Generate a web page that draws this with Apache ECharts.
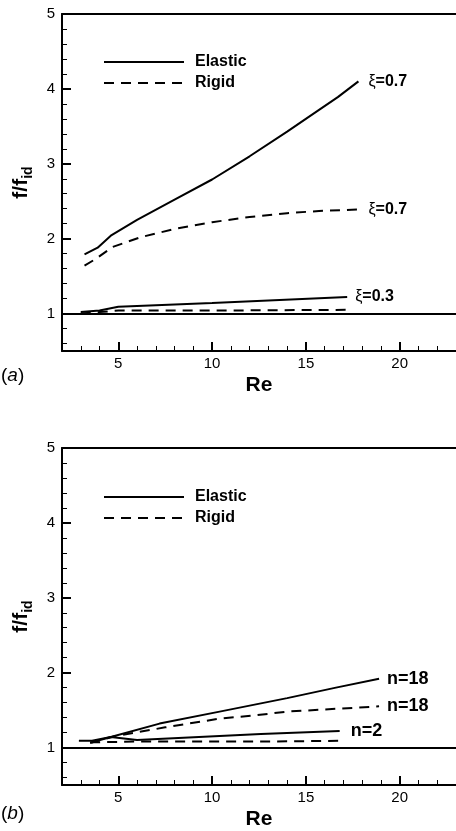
<!DOCTYPE html>
<html>
<head>
<meta charset="utf-8">
<script src="https://cdn.jsdelivr.net/npm/echarts@6/dist/echarts.min.js"></script>
<style>
html, body { margin: 0; padding: 0; background: #fff; }
#chart { width: 456px; height: 831px; }
</style>
</head>
<body>
<div id="chart"></div>
<script>
// panel (a): xi = 0.7 and xi = 0.3
var reElastic07 = [3.2, 3.9, 4.6, 6.0, 8.0, 10.0, 12.0, 14.0, 15.7, 16.7, 17.8];
var fElastic07 = [1.79, 1.88, 2.04, 2.25, 2.52, 2.79, 3.10, 3.43, 3.72, 3.89, 4.10];
var reRigid07 = [3.2, 3.8, 4.7, 6.2, 8.0, 10.0, 12.0, 14.0, 15.7, 17.8];
var fRigid07 = [1.64, 1.73, 1.89, 2.02, 2.13, 2.22, 2.29, 2.34, 2.37, 2.39];
var reElastic03 = [3.0, 4.0, 5.0, 10.0, 17.2];
var fElastic03 = [1.02, 1.04, 1.09, 1.14, 1.22];
var reRigid03 = [3.0, 4.0, 5.0, 10.0, 17.2];
var fRigid03 = [1.00, 1.02, 1.04, 1.04, 1.05];

// panel (b): n = 18 and n = 2
var reElastic18 = [2.9, 3.6, 4.6, 7.2, 10.4, 12.6, 14.0, 16.6, 18.9];
var fElastic18 = [1.09, 1.09, 1.14, 1.32, 1.48, 1.59, 1.66, 1.80, 1.92];
var reRigid18 = [3.5, 4.8, 7.5, 10.5, 12.3, 14.0, 18.9];
var fRigid18 = [1.06, 1.15, 1.27, 1.39, 1.43, 1.48, 1.55];
var reElastic2 = [3.6, 4.6, 6.0, 12.6, 16.8];
var fElastic2 = [1.07, 1.14, 1.10, 1.18, 1.22];
var reRigid2 = [3.5, 6.0, 12.6, 16.8];
var fRigid2 = [1.07, 1.08, 1.08, 1.09];

// ticks
var xMajor = [5, 10, 15, 20];
var xMinor = [3, 4, 6, 7, 8, 9, 11, 12, 13, 14, 16, 17, 18, 19, 21, 22];
var yMajor = [1, 2, 3, 4, 5];
var yMinor = [0.6, 0.8, 1.2, 1.4, 1.6, 1.8, 2.2, 2.4, 2.6, 2.8, 3.2, 3.4, 3.6, 3.8, 4.2, 4.4, 4.6, 4.8];

var FONT = '"Liberation Sans", Arial, Helvetica, sans-serif';
var DASH = [10, 7];

function pairs(xs, ys) {
    var out = [];
    for (var i = 0; i < xs.length; i++) out.push([xs[i], ys[i]]);
    return out;
}

function curve(name, xs, ys, dashed, g, label, dist, size) {
    var s = {
        name: name,
        type: 'line',
        xAxisIndex: g * 3,
        yAxisIndex: g * 2,
        data: pairs(xs, ys),
        symbol: 'none',
        showSymbol: false,
        silent: true,
        lineStyle: { color: '#000', width: 2, type: dashed ? DASH : 'solid' },
        itemStyle: { color: '#000' }
    };
    if (label) {
        s.endLabel = {
            show: true,
            formatter: label,
            distance: dist,
            color: '#000',
            rich: {
                s: { fontFamily: FONT, fontSize: size, color: '#000' },
                b: { fontFamily: FONT, fontSize: size, fontWeight: 'bold', color: '#000' }
            }
        };
    }
    return s;
}

var grids = [
    { left: 62, top: 14, width: 395, height: 337 },
    { left: 62, top: 448, width: 395, height: 337 }
];

var xAxes = [], yAxes = [];
grids.forEach(function (gr, g) {
    xAxes.push({
        type: 'value', gridIndex: g, min: 2, max: 23, position: 'bottom',
        name: 'Re', nameLocation: 'middle', nameGap: 24,
        nameTextStyle: { fontFamily: FONT, fontSize: 21, fontWeight: 'bold', color: '#000' },
        axisLine: { lineStyle: { color: '#000', width: 2 } },
        axisTick: { inside: true, length: 9, customValues: xMajor, lineStyle: { color: '#000', width: 2 } },
        axisLabel: { customValues: xMajor, margin: 5, fontFamily: FONT, fontSize: 15, color: '#000' },
        splitLine: { show: false }
    });
    xAxes.push({
        type: 'value', gridIndex: g, min: 2, max: 23, position: 'bottom',
        axisLine: { show: false },
        axisTick: { inside: true, length: 5, customValues: xMinor, lineStyle: { color: '#000', width: 1 } },
        axisLabel: { show: false },
        splitLine: { show: false }
    });
    xAxes.push({
        type: 'value', gridIndex: g, min: 2, max: 23, position: 'top',
        axisLine: { lineStyle: { color: '#000', width: 2 } },
        axisTick: { show: false }, axisLabel: { show: false }, splitLine: { show: false }
    });
    yAxes.push({
        type: 'value', gridIndex: g, min: 0.5, max: 5, position: 'left',
        name: '{a|f/f}{b|id}', nameLocation: 'middle', nameGap: 27, nameRotate: 90,
        nameTextStyle: {
            rich: {
                a: { fontFamily: FONT, fontSize: 21, fontWeight: 'bold', color: '#000' },
                b: { fontFamily: FONT, fontSize: 14, fontWeight: 'bold', color: '#000', padding: [13, 0, 0, 0], verticalAlign: 'bottom' }
            }
        },
        axisLine: { lineStyle: { color: '#000', width: 2 } },
        axisTick: { inside: true, length: 9, customValues: yMajor, lineStyle: { color: '#000', width: 2 } },
        axisLabel: { customValues: yMajor, margin: 7, fontFamily: FONT, fontSize: 15, color: '#000' },
        splitLine: { show: false }
    });
    yAxes.push({
        type: 'value', gridIndex: g, min: 0.5, max: 5, position: 'left',
        axisLine: { show: false },
        axisTick: { inside: true, length: 5, customValues: yMinor, lineStyle: { color: '#000', width: 1 } },
        axisLabel: { show: false },
        splitLine: { show: false }
    });
});

var series = [
    curve('Elastic', reElastic07, fElastic07, false, 0, '{s|ξ}{b|=0.7}', 10, 16),
    curve('Rigid', reRigid07, fRigid07, true, 0, '{s|ξ}{b|=0.7}', 10, 16),
    curve('Elastic', reElastic03, fElastic03, false, 0, '{s|ξ}{b|=0.3}', 8, 16),
    curve('Rigid', reRigid03, fRigid03, true, 0, null),
    curve('Elastic', reElastic18, fElastic18, false, 1, '{b|n=18}', 8, 18),
    curve('Rigid', reRigid18, fRigid18, true, 1, '{b|n=18}', 8, 18),
    curve('Elastic', reElastic2, fElastic2, false, 1, '{b|n=2}', 11, 18),
    curve('Rigid', reRigid2, fRigid2, true, 1, null)
];

// horizontal reference line f/f_id = 1 in both panels
[0, 4].forEach(function (i) {
    series[i].markLine = {
        silent: true, symbol: 'none', animation: false,
        label: { show: false },
        lineStyle: { color: '#000', width: 2, type: 'solid' },
        data: [{ yAxis: 1 }]
    };
});

function legendAt(top) {
    return {
        data: ['Elastic', 'Rigid'],
        orient: 'vertical', left: 103, top: top, padding: 0,
        itemWidth: 80, itemHeight: 14, itemGap: 5,
        selectedMode: false,
        itemStyle: { opacity: 0 },
        textStyle: { fontFamily: FONT, fontSize: 16, fontWeight: 'bold', color: '#000', padding: [0, 0, 0, 6] }
    };
}

var chart = echarts.init(document.getElementById('chart'), null, { renderer: 'canvas' });
chart.setOption({
    animation: false,
    backgroundColor: '#fff',
    grid: grids,
    xAxis: xAxes,
    yAxis: yAxes,
    legend: [legendAt(54), legendAt(489)],
    series: series,
    graphic: [
        {
            type: 'text', left: 1, top: 366,
            style: {
                text: '{p|(}{i|a}{p|)}',
                rich: {
                    p: { fontFamily: FONT, fontSize: 19, fill: '#000' },
                    i: { fontFamily: FONT, fontSize: 19, fontStyle: 'italic', fill: '#000' }
                }
            }
        },
        {
            type: 'text', left: 1, top: 804,
            style: {
                text: '{p|(}{i|b}{p|)}',
                rich: {
                    p: { fontFamily: FONT, fontSize: 19, fill: '#000' },
                    i: { fontFamily: FONT, fontSize: 19, fontStyle: 'italic', fill: '#000' }
                }
            }
        }
    ]
});
</script>
</body>
</html>
